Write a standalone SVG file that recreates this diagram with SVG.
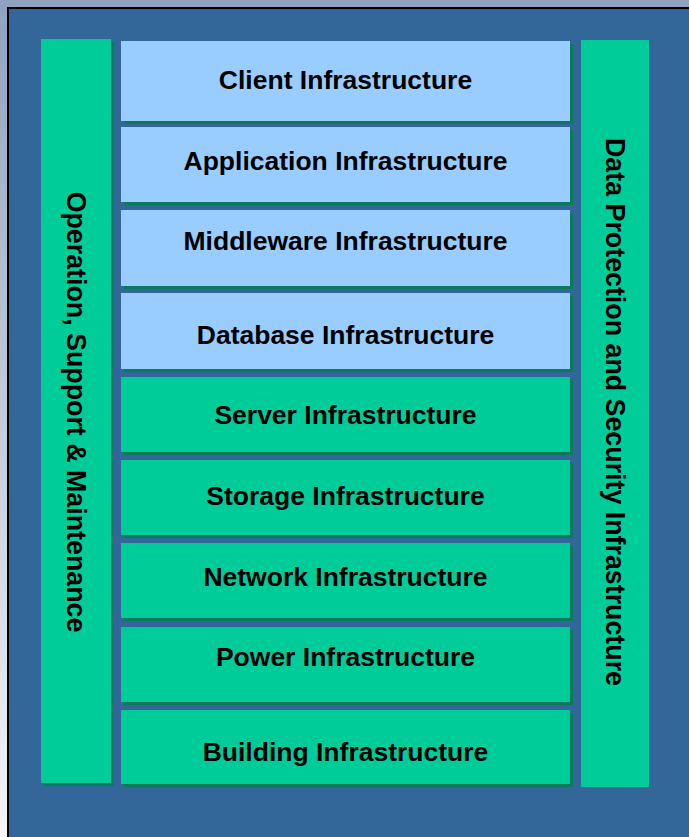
<svg xmlns="http://www.w3.org/2000/svg" width="689" height="837" viewBox="0 0 689 837">
  <defs>
    <linearGradient id="bgGrad" x1="0" y1="0" x2="0" y2="1">
      <stop offset="0" stop-color="#8fa3bf"/>
      <stop offset="1" stop-color="#f4f5f7"/>
    </linearGradient>
  </defs>
  <style>
    .blue { fill: #99ccff; }
    .green { fill: #00cc99; }
    .shadow { fill: #0a7a5c; }
    .lbl { font-family: "Liberation Sans", Arial, sans-serif; font-weight: bold; font-size: 26.5px; fill: #000000; text-anchor: middle; }
    .vlbl { font-size: 26.8px; }
  </style>
  <rect x="0" y="0" width="689" height="837" fill="url(#bgGrad)"/>
  <rect x="0" y="0" width="689" height="10" fill="#8fa3bf"/>
  <rect x="8" y="8" width="700" height="850" fill="#336699" stroke="#000000" stroke-width="2"/>

  <g id="operation-support">
    <rect class="shadow" x="44" y="42" width="70" height="744"/>
    <rect class="green" x="41" y="39" width="70" height="744"/>
    <text class="lbl vlbl" transform="translate(76,412) rotate(90)" x="0" y="9">Operation, Support &amp; Maintenance</text>
  </g>

  <g id="data-protection">
    <rect class="green" x="581" y="40" width="68" height="747"/>
    <text class="lbl vlbl" transform="translate(615,412) rotate(90)" x="0" y="9">Data Protection and Security Infrastructure</text>
  </g>

  <g id="client">
    <rect class="shadow" x="124" y="44" width="449" height="80"/>
    <rect class="blue" x="121" y="41" width="449" height="80"/>
    <text class="lbl" x="345.5" y="89">Client Infrastructure</text>
  </g>
  <g id="application">
    <rect class="shadow" x="124" y="130" width="449" height="75"/>
    <rect class="blue" x="121" y="127" width="449" height="75"/>
    <text class="lbl" x="345.5" y="170">Application Infrastructure</text>
  </g>
  <g id="middleware">
    <rect class="shadow" x="124" y="213" width="449" height="76"/>
    <rect class="blue" x="121" y="210" width="449" height="76"/>
    <text class="lbl" x="345.5" y="250">Middleware Infrastructure</text>
  </g>
  <g id="database">
    <rect class="shadow" x="124" y="296" width="449" height="76"/>
    <rect class="blue" x="121" y="293" width="449" height="76"/>
    <text class="lbl" x="345.5" y="344">Database Infrastructure</text>
  </g>
  <g id="server">
    <rect class="shadow" x="124" y="380" width="449" height="75"/>
    <rect class="green" x="121" y="377" width="449" height="75"/>
    <text class="lbl" x="345.5" y="424">Server Infrastructure</text>
  </g>
  <g id="storage">
    <rect class="shadow" x="124" y="463" width="449" height="75"/>
    <rect class="green" x="121" y="460" width="449" height="75"/>
    <text class="lbl" x="345.5" y="505">Storage Infrastructure</text>
  </g>
  <g id="network">
    <rect class="shadow" x="124" y="546" width="449" height="75"/>
    <rect class="green" x="121" y="543" width="449" height="75"/>
    <text class="lbl" x="345.5" y="586">Network Infrastructure</text>
  </g>
  <g id="power">
    <rect class="shadow" x="124" y="630" width="449" height="75"/>
    <rect class="green" x="121" y="627" width="449" height="75"/>
    <text class="lbl" x="345.5" y="666">Power Infrastructure</text>
  </g>
  <g id="building">
    <rect class="shadow" x="124" y="713" width="449" height="74"/>
    <rect class="green" x="121" y="710" width="449" height="74"/>
    <text class="lbl" x="345.5" y="761">Building Infrastructure</text>
  </g>

  <g id="connectors"></g>
</svg>
